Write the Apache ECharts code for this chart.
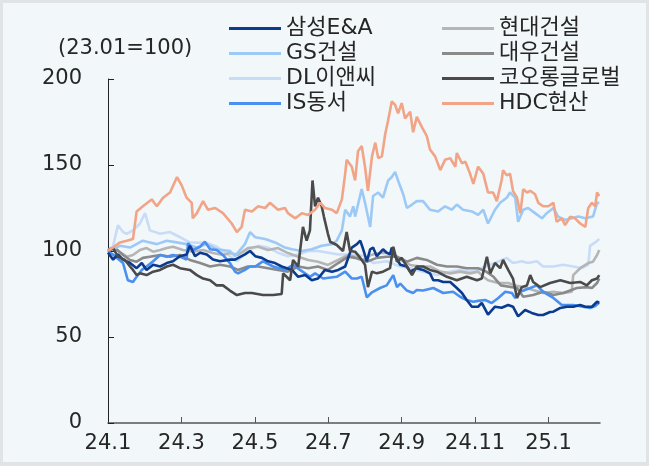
<!DOCTYPE html>
<html>
<head>
<meta charset="utf-8">
<script src="https://cdn.jsdelivr.net/npm/echarts@6/dist/echarts.min.js"></script>
<style>
  html, body { margin: 0; padding: 0; background: #e1e4e6; }
  #chart { position: absolute; left: 3px; top: 3px; width: 643px; height: 459px; background: #f2f7f9; }
</style>
</head>
<body>
<div id="chart"></div>
<script>
// x = months since 2024-01 (0 = 24.1), y = index (23.01=100)
var xTickMonths = [0, 2, 4, 6, 8, 10, 12];
var xTickLabels = ['24.1', '24.3', '24.5', '24.7', '24.9', '24.11', '25.1'];

var names = ['삼성E&A', 'GS건설', 'DL이앤씨', 'IS동서', '현대건설', '대우건설', '코오롱글로벌', 'HDC현산'];
var colors = ['#0b3b8f', '#9dc9f7', '#c8dcf8', '#4b8ff0', '#b5b5b5', '#8a8a8a', '#4a4a4a', '#f2a487'];

var samsung = [[0,99],[0.14,95],[0.27,98],[0.41,95],[0.6,93],[0.78,90],[0.92,93],[1.05,89],[1.23,92],[1.42,91],[1.6,93],[1.77,94],[1.96,97],[2.14,98],[2.23,103],[2.37,97],[2.51,99],[2.69,98],[2.86,95],[3.05,94],[3.32,95],[3.46,95],[3.73,98],[3.87,100],[4.01,97],[4.19,96],[4.36,94],[4.55,93],[4.73,91],[5.01,89],[5.18,85],[5.37,86],[5.55,83],[5.72,84],[5.91,89],[6.1,88],[6.27,89],[6.46,91],[6.64,102],[6.78,104],[6.87,106],[6.95,101],[7.05,94],[7.14,101],[7.22,102],[7.32,97],[7.49,101],[7.59,99],[7.68,98],[7.73,102],[7.82,97],[7.96,92],[8.14,91],[8.23,88],[8.41,90],[8.58,89],[8.77,87],[8.86,83],[8.99,83],[9.13,82],[9.32,82],[9.5,78.5],[9.64,75.6],[9.77,71.5],[9.91,67.6],[10.08,67.6],[10.18,69.8],[10.35,63],[10.54,67.6],[10.72,67],[10.9,68.6],[11.03,67.6],[11.17,62],[11.36,65.7],[11.54,64],[11.72,62.8],[11.85,62.8],[12.04,64.5],[12.13,64.7],[12.32,66.9],[12.5,67.6],[12.67,67.6],[12.86,68.6],[13.0,67.6],[13.18,67.6],[13.32,70.5],[13.38,70]];

var gs = [[0,100],[0.33,103],[0.6,102],[0.95,106],[1.14,105],[1.33,104],[1.6,106],[1.87,105],[2.14,104],[2.42,102],[2.69,104],[2.96,101],[3.32,100],[3.46,97],[3.73,104],[3.87,111],[4.01,108],[4.28,107],[4.55,105],[4.82,102],[5.01,101],[5.28,100],[5.55,101],[5.82,103],[6.1,104],[6.23,106],[6.37,112],[6.46,124],[6.59,120],[6.68,126],[6.73,120],[6.91,136],[7.0,128],[7.14,114],[7.22,132],[7.36,134],[7.49,131],[7.63,141],[7.73,143],[7.82,146],[7.9,141],[8.04,133],[8.14,125],[8.28,127],[8.41,129],[8.58,129],[8.77,124],[8.99,123],[9.18,126],[9.36,124],[9.5,127],[9.67,124],[9.91,123],[10.08,121],[10.22,124],[10.35,116],[10.54,124],[10.68,128],[10.86,131],[10.95,134],[11.09,131],[11.17,117],[11.31,124],[11.44,125],[11.63,122],[11.82,119],[11.95,122],[12.13,125],[12.26,120],[12.45,118],[12.63,119],[12.81,120],[13.0,119],[13.21,120],[13.32,128],[13.38,128]];

var dl = [[0,100],[0.14,103],[0.27,115],[0.41,111],[0.51,110],[0.68,112],[0.87,116],[1.01,122],[1.14,112],[1.42,110],[1.69,111],[1.87,109],[2.23,105],[2.69,104.6],[2.96,102.5],[3.32,97],[3.51,94],[3.87,101],[4.09,103],[4.36,102],[4.63,99],[4.9,97],[5.18,98],[5.45,100],[5.72,100],[6.0,99],[6.27,98],[6.54,98],[6.78,98],[7.0,97],[7.22,93],[7.59,94],[7.96,91],[8.23,90],[8.58,88],[8.96,86],[9.32,88],[9.59,89],[9.86,88],[10.08,89],[10.27,91],[10.54,93],[10.86,96],[11.03,93],[11.27,94],[11.44,93],[11.68,94],[11.85,91],[12.13,91],[12.4,92],[12.67,91],[12.9,90],[13.08,92],[13.13,103],[13.27,105],[13.38,107]];

var isdongseo = [[0,100],[0.19,97],[0.41,93],[0.54,83],[0.68,82],[0.78,85],[0.92,89],[1.05,91],[1.23,94],[1.42,97.7],[1.6,96.7],[1.77,97.7],[1.96,96.7],[2.14,95],[2.18,104.6],[2.32,100.6],[2.51,102.5],[2.64,105.4],[2.78,101],[2.96,100.6],[3.13,97.7],[3.32,93],[3.46,88],[3.54,87],[3.73,89],[3.87,91],[4.01,91],[4.22,94],[4.5,91],[4.82,89],[5.04,92],[5.23,89],[5.5,85],[5.64,87],[5.86,84],[6.23,85],[6.46,88],[6.64,84],[6.78,84],[6.91,85],[7.05,73],[7.19,76],[7.41,78.5],[7.59,80],[7.68,83],[7.77,86],[7.87,79],[7.96,81],[8.14,77],[8.31,75.6],[8.41,77.3],[8.58,77],[8.86,78.5],[9.13,75.6],[9.4,76.3],[9.59,73.4],[9.77,71.5],[9.95,70.5],[10.08,71],[10.27,71.5],[10.45,69.8],[10.63,72.7],[10.82,76.3],[11.0,75.6],[11.09,72.7],[11.23,76.3],[11.5,78.5],[11.68,80],[11.85,76.3],[12.13,72.7],[12.36,68.6],[12.67,68.6],[12.94,67.6],[13.13,66.9],[13.27,68],[13.38,70]];

var hyundai = [[0,101],[0.24,100.6],[0.51,96.7],[0.68,97.7],[0.87,100.6],[1.05,101.7],[1.23,99.6],[1.42,100.6],[1.6,101.7],[1.77,102.5],[2.04,100.6],[2.32,99.6],[2.59,100.6],[2.86,98.8],[3.13,97.7],[3.32,98.8],[3.54,97.7],[3.81,101.7],[4.09,102.5],[4.36,100.6],[4.63,101.7],[4.9,98.8],[5.18,96.7],[5.45,94.8],[5.72,93.8],[5.99,91.9],[6.27,94.8],[6.54,97.7],[6.73,96.7],[6.95,94.8],[7.14,97.5],[7.32,98.5],[7.49,99],[7.77,98.5],[7.96,94.8],[8.23,91.9],[8.5,91],[8.77,91],[9.05,88],[9.32,87],[9.59,88],[9.86,87],[10.08,88],[10.22,85],[10.35,83],[10.63,81.4],[10.9,81.4],[11.09,80],[11.31,79],[11.58,77.3],[11.85,75.6],[12.13,76.3],[12.4,75.6],[12.63,76.3],[12.67,86],[12.86,90],[13.08,93],[13.21,93.8],[13.32,97.7],[13.38,100.6]];

var daewoo = [[0,101],[0.19,101.7],[0.41,97.7],[0.6,94.8],[0.78,93.8],[0.95,96],[1.14,96.7],[1.42,97.7],[1.69,96.7],[1.96,97.7],[2.23,94.8],[2.51,93],[2.78,91],[3.05,92],[3.32,91],[3.54,89],[3.81,91],[4.09,91],[4.36,90],[4.63,89],[4.9,88],[5.18,91],[5.45,90],[5.72,91],[5.99,89],[6.27,93],[6.54,96.7],[6.73,96],[6.78,96],[7.05,93.8],[7.32,96],[7.59,96.7],[7.87,96.7],[8.14,93.8],[8.41,96],[8.68,94.8],[8.96,92],[9.23,91],[9.5,91],[9.77,90],[10.08,90],[10.3,88],[10.5,85],[10.7,80],[11.14,78.5],[11.31,73.4],[11.58,74.4],[11.85,76.3],[12.13,74.4],[12.4,75.6],[12.77,78.5],[13.04,79],[13.18,78.5],[13.32,81.4],[13.38,84]];

var kolon = [[0,100],[0.14,101.7],[0.27,96.7],[0.46,94.8],[0.6,91],[0.68,89],[0.78,86],[0.87,87],[1.05,86],[1.23,88],[1.42,89],[1.6,91],[1.77,92],[1.96,90],[2.23,89],[2.42,86],[2.59,84],[2.78,83],[2.96,80],[3.13,80],[3.32,77],[3.51,74.4],[3.73,75.6],[3.92,75.6],[4.22,74.4],[4.5,74.4],[4.73,75],[4.77,87],[4.96,83],[5.04,94.8],[5.18,91],[5.31,114],[5.41,106],[5.5,112],[5.57,141],[5.64,126],[5.72,131],[5.82,126],[5.88,120],[5.99,110],[6.05,105.4],[6.23,103.5],[6.4,100],[6.5,111],[6.59,100],[6.73,99.6],[6.87,96],[7.0,92],[7.08,79],[7.19,88],[7.32,87],[7.49,88],[7.68,90],[7.77,102.5],[7.87,93.8],[8.0,96],[8.14,91],[8.28,86],[8.41,91],[8.58,91],[8.77,89],[8.96,88],[9.23,85],[9.5,83],[9.77,85],[10.05,83],[10.18,84],[10.32,96.7],[10.41,87],[10.54,93],[10.68,90],[10.76,94.8],[10.9,89],[11.03,84],[11.14,72.7],[11.27,79],[11.41,80],[11.5,86],[11.58,82],[11.77,79],[12.04,81.4],[12.32,83],[12.59,81.4],[12.86,82],[13.04,80],[13.18,83],[13.32,84],[13.38,86]];

var hdc = [[0,100],[0.33,105],[0.51,106],[0.68,107],[0.78,123],[0.95,126],[1.19,130],[1.33,126],[1.5,131],[1.69,134],[1.88,143],[2.01,138],[2.14,131],[2.28,128],[2.31,119],[2.42,122],[2.59,129],[2.72,124],[2.92,125],[3.13,122],[3.37,116],[3.51,111],[3.64,114],[3.73,124],[3.92,123],[4.09,126],[4.28,125],[4.41,128],[4.63,124],[4.82,125],[4.9,122],[5.1,119],[5.28,122],[5.45,121],[5.64,124],[5.78,128],[5.91,125],[6.1,124],[6.23,122],[6.37,130],[6.46,145],[6.5,153],[6.64,149],[6.73,141],[6.81,158],[6.91,161],[7.0,149],[7.08,135],[7.19,155],[7.28,163],[7.36,154],[7.46,155],[7.55,168],[7.63,176],[7.73,187],[7.82,185],[7.9,180],[8.0,186],[8.09,177],[8.23,181],[8.31,169],[8.41,178],[8.55,172],[8.68,167],[8.77,159],[8.91,155],[9.05,147],[9.18,153],[9.32,154],[9.46,149],[9.5,157],[9.64,151],[9.73,152],[9.86,145],[9.95,139],[10.08,149],[10.22,145],[10.35,134],[10.49,134],[10.59,129],[10.72,141],[10.76,147],[10.86,144],[10.95,145],[11.03,135],[11.14,131],[11.23,122],[11.31,136],[11.41,134],[11.5,135],[11.63,133],[11.72,128],[11.85,126],[11.99,126],[12.13,128],[12.22,117],[12.36,119],[12.45,115],[12.59,120],[12.72,119],[12.86,116],[13.0,114],[13.08,125],[13.18,128],[13.27,126],[13.32,134],[13.38,132]];

var seriesData = [samsung, gs, dl, isdongseo, hyundai, daewoo, kolon, hdc];
// 그리는 순서 (뒤 -> 앞)
var drawOrder = [2, 4, 5, 1, 3, 0, 6, 7];

var FONT = "'DejaVu Sans', 'Noto Sans CJK KR', sans-serif";

var chart = echarts.init(document.getElementById('chart'), null, { renderer: 'canvas' });

var series = [];
for (var k = 0; k < drawOrder.length; k++) {
    var i = drawOrder[k];
    series.push({
        name: names[i],
        type: 'line',
        data: seriesData[i],
        symbol: 'none',
        smooth: false,
        color: colors[i],
        lineStyle: { width: 2.6, color: colors[i] },
        z: 2 + k
    });
}

function legendOf(items, left) {
    return {
        data: items,
        orient: 'vertical',
        left: left,
        top: 8,
        icon: 'rect',
        itemWidth: 52,
        itemHeight: 3,
        itemGap: 0,
        selectedMode: false,
        textStyle: { fontFamily: FONT, fontSize: 22, color: '#262626', lineHeight: 25 }
    };
}

var option = {
    animation: false,
    backgroundColor: 'transparent',
    title: {
        text: '(23.01=100)',
        left: 50,
        top: 30,
        textStyle: { fontFamily: FONT, fontSize: 21, fontWeight: 'normal', color: '#262626' }
    },
    legend: [
        legendOf(names.slice(0, 4), 221),
        legendOf(names.slice(4, 8), 434)
    ],
    grid: { left: 105, top: 76, width: 492, height: 344 },
    xAxis: {
        type: 'value',
        min: 0,
        max: 13.4,
        interval: 2,
        splitLine: { show: false },
        axisLine: { lineStyle: { color: '#555', width: 1.5 } },
        axisTick: {
            inside: true,
            length: 6,
            customValues: xTickMonths.slice(1),
            lineStyle: { color: '#555' }
        },
        axisLabel: {
            customValues: xTickMonths,
            margin: 10,
            fontFamily: FONT,
            fontSize: 21,
            color: '#262626',
            formatter: function (v) {
                var idx = xTickMonths.indexOf(v);
                return idx >= 0 ? xTickLabels[idx] : '';
            }
        }
    },
    yAxis: {
        type: 'value',
        min: 0,
        max: 200,
        interval: 50,
        splitLine: { show: false },
        axisLine: { show: true, lineStyle: { color: '#222', width: 1 } },
        axisTick: { show: true, inside: true, length: 6, lineStyle: { color: '#222' } },
        axisLabel: { margin: 26, fontFamily: FONT, fontSize: 21, color: '#262626' }
    },
    series: series
};

chart.setOption(option);
</script>
</body>
</html>
